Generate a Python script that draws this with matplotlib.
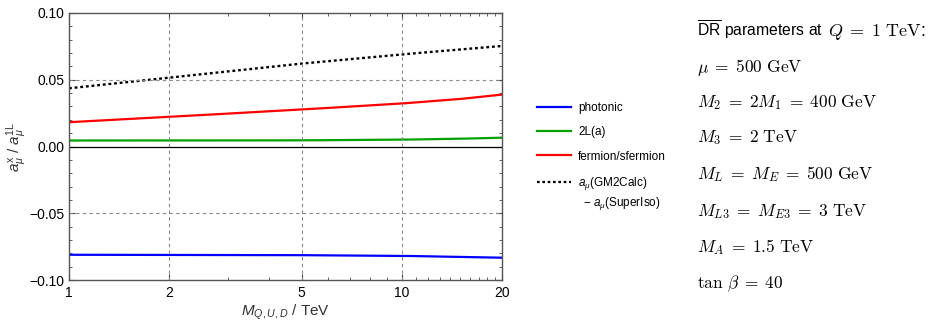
import numpy as np
import matplotlib
matplotlib.use("Agg")
import matplotlib.pyplot as plt
from matplotlib.lines import Line2D
from matplotlib.ticker import FixedLocator, NullFormatter, MultipleLocator

plt.rcParams['font.family'] = ['Liberation Sans', 'DejaVu Sans']
plt.rcParams['mathtext.fontset'] = 'custom'
plt.rcParams['mathtext.it'] = 'Liberation Sans:italic'
plt.rcParams['mathtext.rm'] = 'Liberation Sans'
plt.rcParams['mathtext.sf'] = 'Liberation Sans'

# data
M = [1, 2, 5, 10, 15, 20]
photonic = [-0.0811, -0.0812, -0.0814, -0.0819, -0.0827, -0.0833]
twoL_a = [0.0045, 0.0045, 0.0046, 0.0051, 0.0058, 0.0066]
fermion = [0.0182, 0.0222, 0.0277, 0.0322, 0.0356, 0.0389]
diff = [0.0436, 0.0516, 0.0621, 0.0690, 0.0727, 0.0753]
labels = ['photonic', '2L(a)', 'fermion/sfermion', r'$a_\mu$(GM2Calc)']
label_cont = r'$-\ a_\mu$(SuperIso)'
params = [r'$\mu\;=\;500\ \mathrm{GeV}$',
          r'$M_2\;=\;2M_1\;=\;400\ \mathrm{GeV}$',
          r'$M_3\;=\;2\ \mathrm{TeV}$',
          r'$M_L\;=\;M_E\;=\;500\ \mathrm{GeV}$',
          r'$M_{L3}\;=\;M_{E3}\;=\;3\ \mathrm{TeV}$',
          r'$M_A\;=\;1.5\ \mathrm{TeV}$',
          r'$\tan\,\beta\;=\;40$']

fig = plt.figure(figsize=(9.29, 3.23), dpi=100)
ax = fig.add_axes([69/929, 1 - 280/323, (502-69)/929, (280-13)/323])

xs = np.geomspace(1, 20, 200)
def smooth(y):
    return np.interp(np.log(xs), np.log(M), y)

ax.axhline(0, color='black', lw=0.9)
ax.plot(xs, smooth(photonic), color='#0000ff', lw=1.6)
ax.plot(xs, smooth(twoL_a), color='#00a000', lw=1.6)
ax.plot(xs, smooth(fermion), color='#ff0000', lw=1.6)
ax.plot(xs, smooth(diff), color='black', lw=1.7, ls=(0, (1.2, 1.2)))

ax.set_xscale('log')
ax.set_xlim(1, 20)
ax.set_ylim(-0.1, 0.1)
ax.xaxis.set_major_locator(FixedLocator([1, 2, 5, 10, 20]))
ax.xaxis.set_minor_locator(FixedLocator([3, 4, 6, 7, 8, 9, 11, 12, 13, 14, 15, 16, 17, 18, 19]))
ax.xaxis.set_minor_formatter(NullFormatter())
ax.set_xticklabels(['1', '2', '5', '10', '20'])
ax.yaxis.set_major_locator(FixedLocator([-0.1, -0.05, 0, 0.05, 0.1]))
ax.set_yticklabels(['\u22120.10', '\u22120.05', '0.00', '0.05', '0.10'])
ax.yaxis.set_minor_locator(MultipleLocator(0.01))
ax.tick_params(which='both', direction='in', top=True, right=True, labelsize=10, color='#444444')
ax.tick_params(which='major', length=4, width=0.8)
ax.tick_params(which='minor', length=2.5, width=0.6)
ax.tick_params(axis='x', pad=4)
for x in [2, 5, 10]:
    ax.axvline(x, color='#888888', lw=0.8, ls=(0, (3, 3)))
for y in [0.05, -0.05]:
    ax.axhline(y, color='#888888', lw=0.8, ls=(0, (3, 3)))
for s in ax.spines.values():
    s.set_color('#555555')
    s.set_linewidth(1.0)

ax.set_xlabel(r'$M_{Q,U,D}$ / TeV', fontsize=11, color='#333333', labelpad=2)
ax.set_ylabel(r'$a_\mu^\mathrm{x}$ / $a_\mu^{\mathrm{1L}}$', fontsize=11, color='#333333')
ax.yaxis.set_label_coords(-40/433, 0.5)

handles = [Line2D([], [], color='#0000ff', lw=1.6),
           Line2D([], [], color='#00a000', lw=1.6),
           Line2D([], [], color='#ff0000', lw=1.6),
           Line2D([], [], color='black', lw=1.6, ls=(0, (1.2, 1.2)))]
leg = fig.legend(handles, labels, loc='upper left', bbox_to_anchor=(532/929, 1 - 97/323),
                 frameon=False, fontsize=8.5, handlelength=2.9, labelspacing=1.05,
                 handletextpad=0.6, borderaxespad=0)
fig.text(583/929, 1 - 204/323, label_cont, fontsize=8.5, va='center', ha='left')

# parameter text
fig.canvas.draw()
r = fig.canvas.get_renderer()
t1 = fig.text(697/929, 1 - 36/323, r'$\overline{\mathrm{DR}}$ parameters at',
              fontsize=11.3, va='baseline', ha='left', color='black')
bb = t1.get_window_extent(r)
fig.text((bb.x1 + 5)/929, 1 - 36/323, r'$Q\;=\;1\ \mathrm{TeV}$:', fontsize=13,
         va='baseline', ha='left', math_fontfamily='cm', color='black')
ys = [72, 107, 142, 179, 216, 252, 288]
for t, y in zip(params, ys):
    fig.text(697/929, 1 - y/323, t, fontsize=12.5, va='baseline', ha='left',
             math_fontfamily='cm', color='black')

fig.savefig('out.png', dpi=100)
